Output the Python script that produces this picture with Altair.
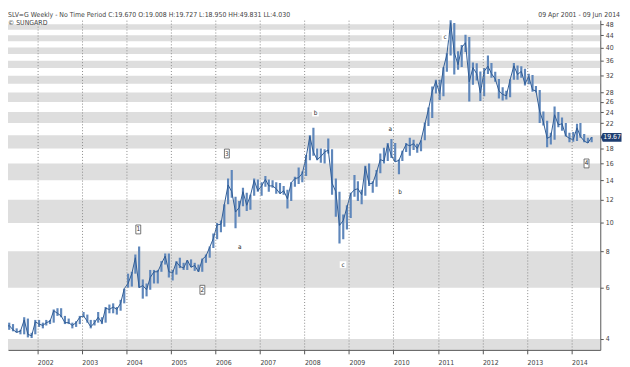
import altair as alt
import pandas as pd

FONT = "Liberation Sans Narrow, Arial Narrow, DejaVu Sans Condensed, sans-serif"

# Monthly low / high / close (Apr 2001 .. Jun 2014)
lows = [
    4.30, 4.30, 4.25, 4.20, 4.15, 4.15, 4.05, 4.03, 4.15,
    4.40, 4.35, 4.45, 4.50, 4.55, 4.80, 4.75, 4.50, 4.50, 4.35, 4.40, 4.50,
    4.75, 4.55, 4.35, 4.45, 4.55, 4.50, 4.55, 4.90, 4.90, 4.85, 5.00, 5.30,
    6.00, 6.05, 6.70, 6.00, 5.50, 5.60, 5.90, 6.20, 6.20, 6.80, 7.20, 6.50,
    6.35, 6.65, 7.00, 6.90, 6.90, 7.05, 6.85, 6.80, 6.80, 7.30, 7.60, 8.20,
    8.80, 9.30, 9.70, 11.60, 12.20, 9.60, 10.50, 11.40, 11.00, 11.10, 12.40, 12.80,
    12.40, 13.30, 12.80, 13.20, 12.60, 12.60, 12.50, 11.20, 11.90, 13.30, 13.60, 13.80,
    14.50, 16.40, 17.00, 16.40, 16.10, 16.00, 17.30, 12.50, 10.50, 8.50, 8.80, 9.50,
    10.40, 12.30, 11.90, 11.60, 12.40, 13.40, 12.70, 13.30, 14.80, 16.00, 16.30, 16.70,
    16.20, 14.70, 16.30, 17.50, 17.00, 17.80, 17.40, 17.60, 19.20, 21.50, 22.90, 27.80,
    26.40, 27.20, 33.00, 37.50, 32.30, 33.50, 34.30, 38.60, 26.10, 29.80, 30.80, 26.20,
    27.20, 32.40, 31.50, 30.50, 26.70, 26.30, 26.50, 27.00, 31.00, 31.00, 31.50, 29.60,
    29.90, 28.20, 28.00, 22.00, 21.60, 18.20, 18.60, 19.30, 21.30, 20.70, 19.80, 18.90,
    19.00, 19.10, 19.60, 18.90, 18.80, 18.90,
]
highs = [
    4.45, 4.55, 4.50, 4.35, 4.30, 4.75, 4.70, 4.20, 4.65,
    4.65, 4.55, 4.65, 4.65, 5.05, 5.10, 5.10, 4.80, 4.70, 4.55, 4.60, 4.80,
    4.95, 4.85, 4.65, 4.65, 4.95, 4.75, 5.15, 5.25, 5.30, 5.15, 5.45, 5.95,
    6.70, 6.80, 7.80, 8.30, 6.40, 6.20, 6.90, 6.90, 6.90, 7.40, 7.85, 7.85,
    6.90, 7.40, 7.60, 7.30, 7.45, 7.50, 7.30, 7.20, 7.55, 7.80, 8.30, 9.20,
    10.00, 10.20, 11.60, 14.20, 15.20, 12.30, 11.90, 13.20, 12.70, 12.50, 14.20, 14.10,
    13.80, 14.50, 14.10, 14.00, 13.80, 13.70, 13.40, 13.00, 13.80, 14.40, 15.50, 15.00,
    17.10, 20.00, 21.20, 18.00, 18.00, 17.90, 19.50, 17.90, 14.20, 12.80, 10.70, 11.50,
    12.70, 14.60, 13.90, 13.00, 15.70, 16.00, 13.90, 15.20, 17.30, 18.10, 18.80, 19.40,
    18.80, 16.50, 17.70, 18.80, 19.60, 19.30, 18.70, 19.20, 22.10, 24.90, 29.40, 31.00,
    31.00, 34.20, 38.20, 49.80, 48.50, 38.80, 40.80, 44.20, 43.40, 35.50, 35.30, 33.10,
    34.00, 37.50, 35.40, 33.00, 31.20, 29.20, 28.40, 31.10, 35.40, 34.70, 34.50, 33.80,
    32.50, 32.20, 29.50, 28.60, 24.10, 22.40, 20.40, 25.10, 24.00, 23.00, 22.00, 20.40,
    20.50, 21.90, 22.00, 20.20, 19.60, 19.73,
]
closes = [
    4.37, 4.45, 4.30, 4.22, 4.25, 4.65, 4.15, 4.10, 4.58,
    4.50, 4.45, 4.55, 4.60, 5.00, 4.90, 4.80, 4.55, 4.55, 4.45, 4.55, 4.75,
    4.80, 4.60, 4.40, 4.55, 4.75, 4.55, 5.10, 5.05, 5.15, 5.05, 5.30, 5.95,
    6.20, 6.70, 7.60, 6.00, 6.10, 5.90, 6.50, 6.80, 6.80, 7.25, 7.70, 6.80,
    6.75, 7.35, 7.10, 7.00, 7.45, 7.05, 7.15, 6.80, 7.50, 7.70, 8.25, 8.85,
    9.85, 9.90, 11.55, 13.50, 12.80, 10.90, 11.30, 12.80, 11.50, 12.40, 14.00, 12.90,
    13.40, 14.10, 13.40, 13.40, 13.10, 12.60, 12.90, 12.10, 13.75, 14.20, 14.30, 14.80,
    16.80, 19.80, 17.50, 16.50, 16.90, 17.50, 17.80, 13.70, 12.80, 9.80, 10.20, 11.30,
    12.60, 13.00, 13.10, 12.50, 15.60, 13.60, 13.70, 14.90, 16.50, 16.30, 18.60, 17.00,
    16.20, 16.40, 17.50, 18.60, 18.40, 18.70, 18.00, 19.20, 21.80, 24.50, 28.30, 30.60,
    27.80, 34.00, 37.80, 48.60, 38.40, 34.90, 40.00, 41.50, 30.50, 34.10, 32.50, 27.90,
    33.10, 34.50, 32.50, 31.20, 28.40, 27.60, 27.30, 31.00, 34.60, 32.30, 33.10, 30.00,
    31.80, 28.60, 28.40, 24.10, 22.20, 19.50, 19.80, 23.50, 21.70, 21.90, 19.90, 19.50,
    19.30, 21.20, 19.80, 19.10, 18.80, 19.67,
]
dates = pd.date_range("2001-04-15", periods=len(closes), freq=pd.DateOffset(months=1)).strftime("%Y-%m-%d")

# shaded price bands and axis ticks
band_lo = [2, 6, 10, 14, 18, 22, 26, 30, 34, 38, 42, 46]
band_hi = [4, 8, 12, 16, 20, 24, 28, 32, 36, 40, 44, 48]
y_ticks = [4, 6, 8, 10, 12, 14, 16, 18, 20, 22, 24, 26, 28, 32, 36, 40, 44, 48]
years = [2002, 2003, 2004, 2005, 2006, 2007, 2008, 2009, 2010, 2011, 2012, 2013, 2014]

# wave labels
wave_text = ["1", "2", "3", "a", "b", "c", "a", "b", "c", "4"]
wave_date = ["2004-04-08", "2005-09-16", "2006-04-05", "2006-07-20", "2008-04-01",
             "2008-11-13", "2009-12-05", "2010-02-24", "2011-02-28", "2014-05-04"]
wave_price = [9.5, 5.9, 17.3, 8.3, 23.8, 7.2, 21.0, 12.8, 43.4, 16.0]
wave_boxed = [True, True, True, False, False, False, False, False, False, True]

header_left = "SLV=G Weekly  -  No Time Period   C:19.670 O:19.008 H:19.727 L:18.950 HH:49.831 LL:4.030"
header_sub = "\u00a9 SUNGARD"
header_right = "09 Apr 2001  -  09 Jun 2014"

df = pd.DataFrame({"date": dates, "low": lows, "high": highs, "close": closes})
bands = pd.DataFrame({"lo": band_lo, "hi": band_hi})
waves = pd.DataFrame({"t": wave_text, "date": wave_date, "p": wave_price, "boxed": wave_boxed})

W, H = 600, 334
xscale = alt.Scale(domain=[alt.DateTime(year=2001, month=5, date=5),
                           alt.DateTime(year=2014, month=8, date=25)])
yscale = alt.Scale(type="log", domain=[3.67, 49.6])

xaxis = alt.Axis(values=[alt.DateTime(year=y, month=1, date=1) for y in years],
                 format="%Y", labelAlign="left", labelFontSize=7, labelColor="#444",
                 labelFont=FONT, tickSize=4, tickColor="#555", domainColor="#555",
                 grid=True, gridColor="#8a8a8a", gridDash=[1, 2], gridWidth=1,
                 labelPadding=5, title=None, zindex=1, labelFlush=False, labelOverlap=False)
yaxis = alt.Axis(orient="right", values=y_ticks, format="d", labelFontSize=7,
                 labelColor="#444", labelFont=FONT, tickSize=3, tickColor="#555",
                 domainColor="#555", grid=False, title=None, labelPadding=2,
                 labelOverlap=False,
                 labelExpr="datum.value == 20 ? '' : datum.label")

band_layer = alt.Chart(bands).mark_rect(color="#dedede", clip=True).encode(
    y=alt.Y("lo:Q", scale=yscale, axis=yaxis),
    y2="hi:Q",
    x=alt.value(0), x2=alt.value(W),
)

range_layer = alt.Chart(df).mark_rule(color="#5f87bb", strokeWidth=2.2, clip=True).encode(
    x=alt.X("date:T", scale=xscale, axis=xaxis),
    y=alt.Y("low:Q", scale=yscale),
    y2="high:Q",
)

close_layer = alt.Chart(df).mark_line(color="#2f5b94", strokeWidth=1, clip=True).encode(
    x=alt.X("date:T", scale=xscale),
    y=alt.Y("close:Q", scale=yscale),
)

box_shape = "M-0.55,-1 L0.55,-1 L0.55,1 L-0.55,1 Z"
wave_box = alt.Chart(waves).transform_filter("datum.boxed").mark_point(
    shape=box_shape, size=81, filled=True, fill="white", stroke="#555", strokeWidth=0.8, opacity=1
).encode(x=alt.X("date:T", scale=xscale), y=alt.Y("p:Q", scale=yscale))
wave_bg = alt.Chart(waves).transform_filter("!datum.boxed").mark_point(
    shape="square", size=45, filled=True, color="white", opacity=1
).encode(x=alt.X("date:T", scale=xscale), y=alt.Y("p:Q", scale=yscale))
wave_txt = alt.Chart(waves).mark_text(fontSize=6.5, color="#333", font=FONT).encode(
    x=alt.X("date:T", scale=xscale), y=alt.Y("p:Q", scale=yscale), text="t:N")

last = df.tail(1)
tag_shape = "M-1.2,0 L-1,-0.47 L1,-0.47 L1,0.47 L-1,0.47 Z"
tag = alt.Chart(last).mark_point(shape=tag_shape, size=361, filled=True,
                                 color="#1d3d70", opacity=1).encode(
    x=alt.value(612), y=alt.Y("close:Q", scale=yscale))
tag_txt = alt.Chart(last).mark_text(color="white", fontSize=7, font=FONT).encode(
    x=alt.value(612), y=alt.Y("close:Q", scale=yscale),
    text=alt.Text("close:Q", format=".2f"))

hdr = pd.DataFrame({"a": [0]})
h1 = alt.Chart(hdr).mark_text(text=header_left, align="left", baseline="top",
                              fontSize=7, color="#444", font=FONT).encode(
    x=alt.value(0), y=alt.value(-9))
h2 = alt.Chart(hdr).mark_text(text=header_sub, align="left", baseline="top",
                              fontSize=7, color="#444", font=FONT).encode(
    x=alt.value(0), y=alt.value(-1))
h3 = alt.Chart(hdr).mark_text(text=header_right, align="right", baseline="top",
                              fontSize=7, color="#444", font=FONT).encode(
    x=alt.value(620), y=alt.value(-9))

chart = alt.layer(
    band_layer, range_layer, close_layer, wave_bg, wave_box, wave_txt,
    tag, tag_txt, h1, h2, h3
).properties(
    width=W, height=H,
    autosize=alt.AutoSizeParams(type="none"),
    padding={"left": 0, "top": 10, "right": 22, "bottom": 15},
    background="white",
).configure_view(strokeWidth=0)

chart.save("out.html", embed_options={"renderer": "svg", "actions": False})
